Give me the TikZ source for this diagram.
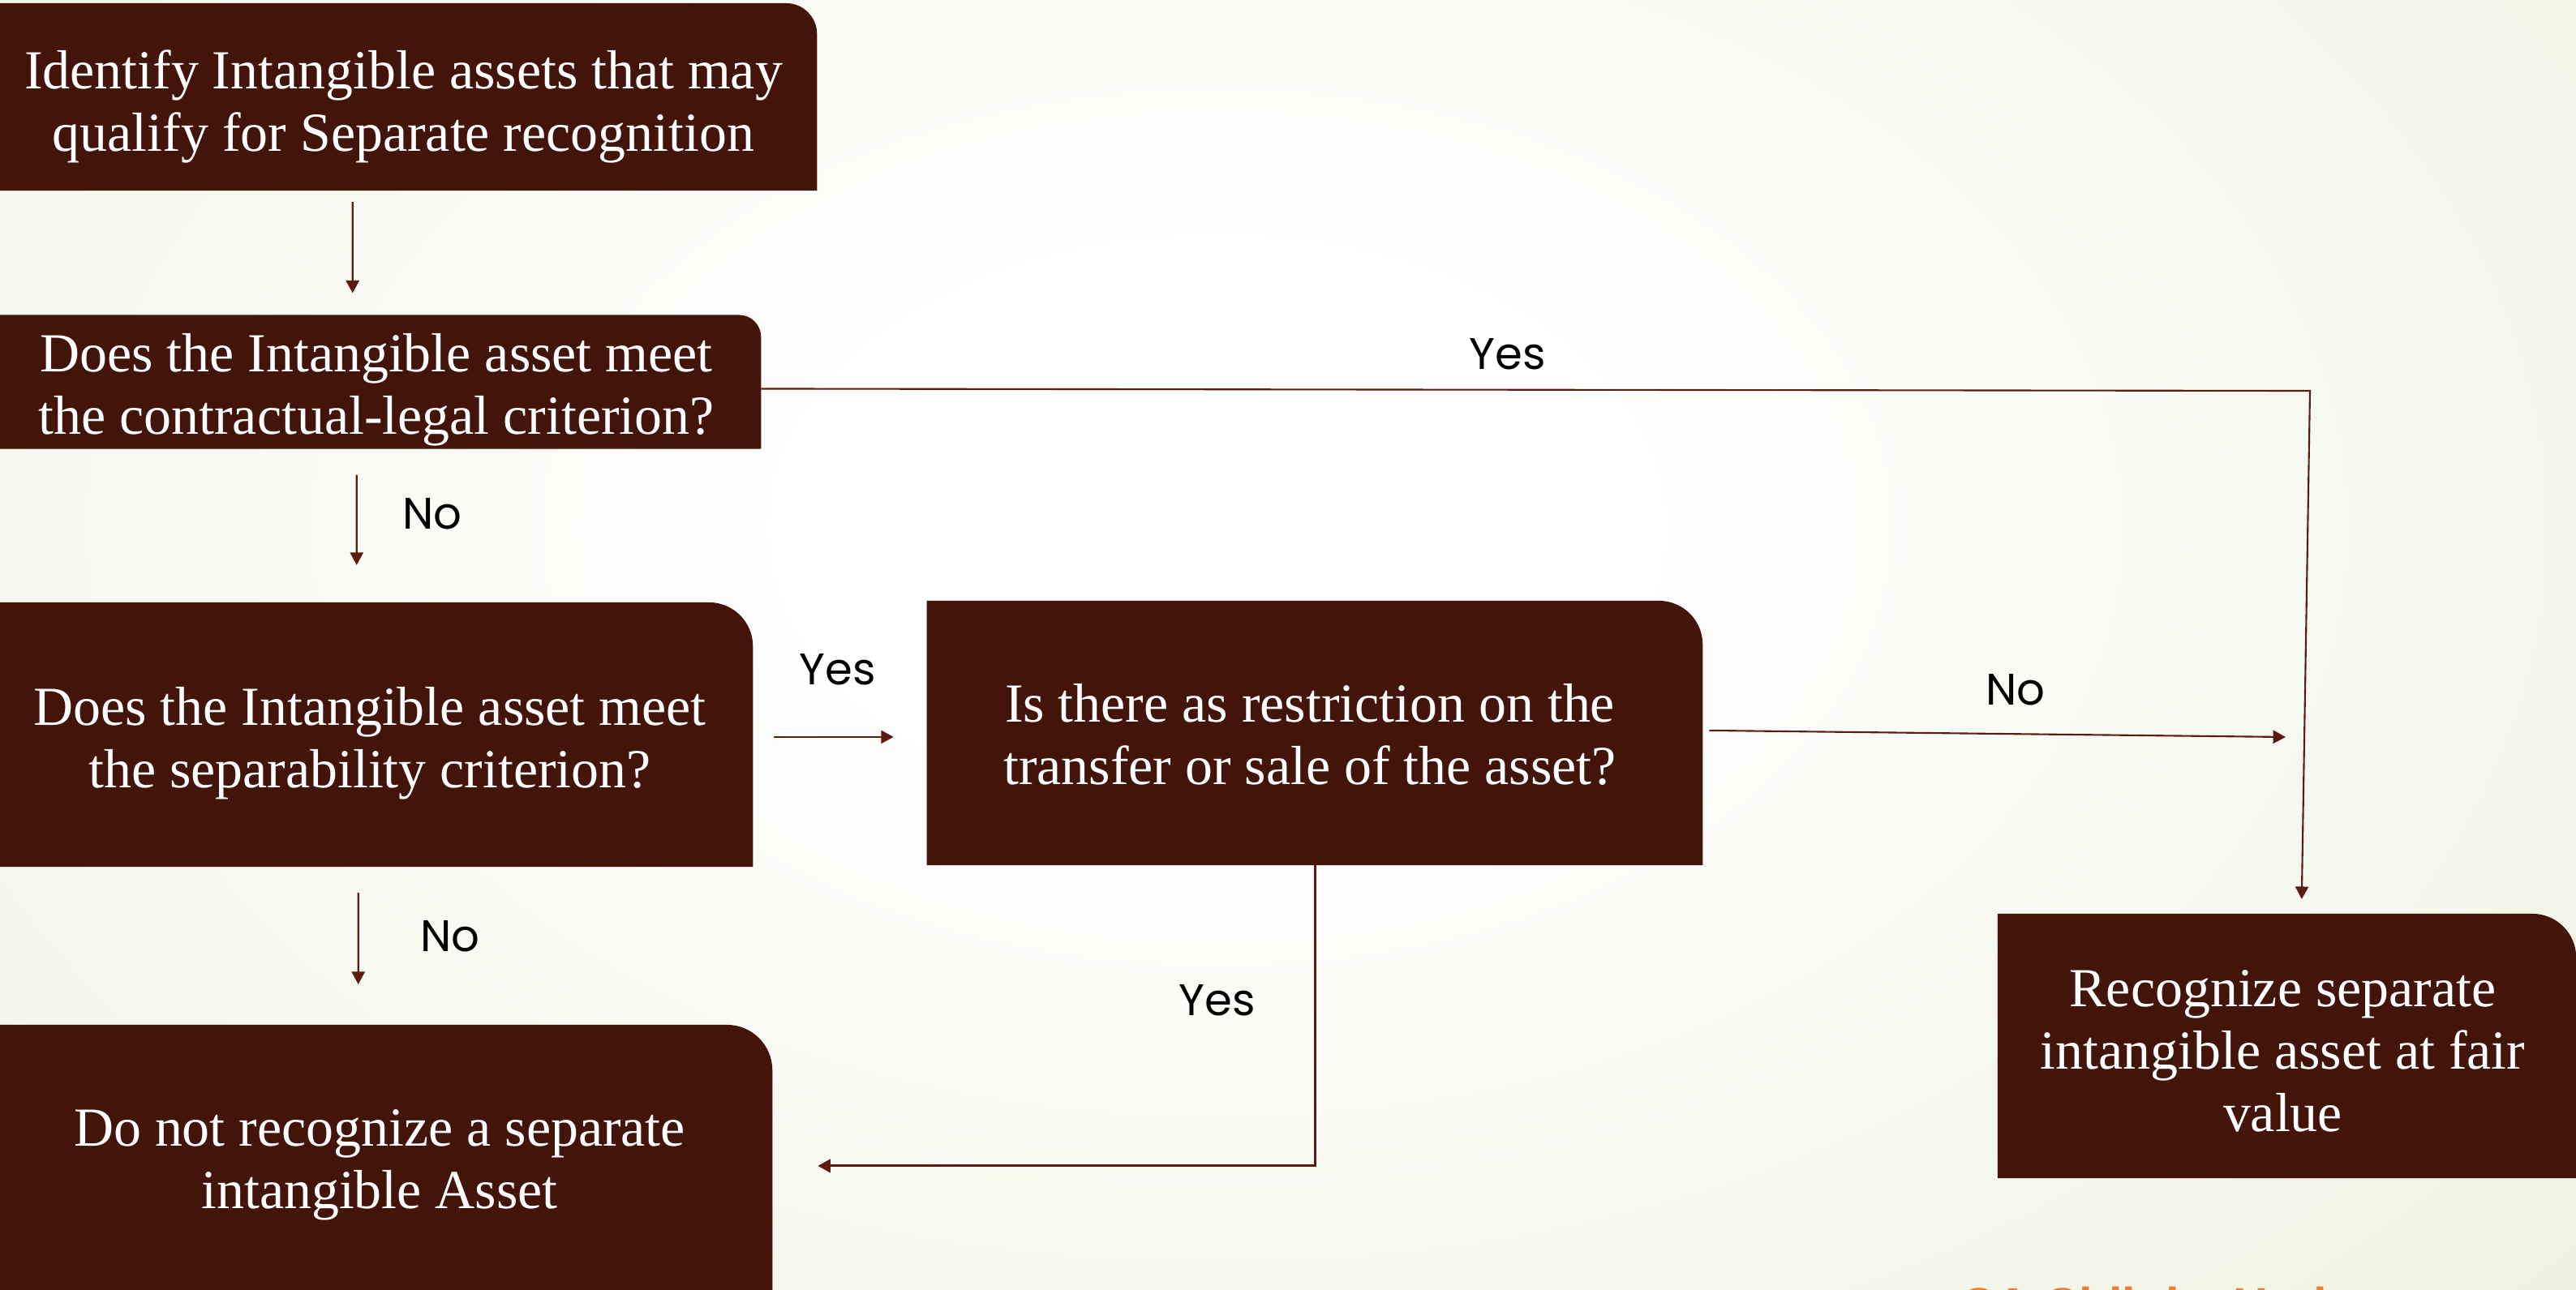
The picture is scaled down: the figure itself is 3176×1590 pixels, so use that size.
\documentclass[tikz,border=0pt]{standalone}
\usepackage{fontspec}
\setmainfont{Liberation Serif}
\newfontfamily\lblfont{Poppins}
\newfontfamily\orgfont{Liberation Sans}
\usetikzlibrary{arrows.meta,calc}
\definecolor{boxcol}{HTML}{43140A}
\definecolor{linecol}{HTML}{5E1A10}
\definecolor{bgout}{HTML}{DCE6C1}
\definecolor{orangecol}{HTML}{F07D2E}
\pgfdeclareradialshading{bgshade}{\pgfpoint{0bp}{0bp}}{color(0bp)=(white); color(6bp)=(white); color(50bp)=(bgout)}
\pgfdeclarelayer{bglayer}
\pgfdeclarelayer{boxlayer}
\pgfsetlayers{bglayer,boxlayer,main}
\tikzset{
  boxshape/.style={inner sep=0pt, outer sep=0pt},
  boxtxt/.style={inner sep=0pt, outer sep=0pt, align=center, text=white,
    font=\fontsize{19.3pt}{21.9pt}\selectfont},
  lbl/.style={inner sep=0pt, font=\lblfont\fontsize{15.5pt}{18pt}\selectfont, text=black},
  conn/.style={draw=linecol, line width=0.6pt},
  arr/.style={conn, -{Triangle[length=4.4pt,width=4.6pt]}},
}
\newcommand{\tabfill}[2]{%
  \fill[boxcol] (#1.south west) -- (#1.north west) -- ([xshift=-#2]#1.north east)
    arc[start angle=90,end angle=0,radius=#2] -- (#1.south east) -- cycle;}
\begin{document}
\begin{tikzpicture}[x=0.01cm,y=-0.01cm]
\useasboundingbox (0,0) rectangle (3176,1590);
\begin{pgfonlayer}{bglayer}
  \clip (0,0) rectangle (3176,1590);
  \shade[shading=bgshade] (-500,-650) rectangle (3500,1950);
\end{pgfonlayer}

% boxes
\node[boxshape, minimum width=10.07cm, minimum height=2.31cm] (b1) at (503.5,119.5) {};
\node[boxshape, minimum width=9.38cm, minimum height=1.65cm] (b2) at (469,471) {};
\node[boxshape, minimum width=9.28cm, minimum height=3.26cm] (b3) at (464,906) {};
\node[boxshape, minimum width=9.56cm, minimum height=3.26cm] (b4) at (1621,904) {};
\node[boxshape, minimum width=9.52cm, minimum height=3.36cm] (b5) at (476,1432) {};
\node[boxshape, minimum width=7.13cm, minimum height=3.26cm] (b6) at (2819.5,1290) {};

\begin{pgfonlayer}{boxlayer}
  \clip (0,0) rectangle (3176,1590);
  \tabfill{b1}{0.38cm}
  \tabfill{b2}{0.27cm}
  \tabfill{b3}{0.54cm}
  \tabfill{b4}{0.54cm}
  \tabfill{b5}{0.56cm}
  \tabfill{b6}{0.54cm}
\end{pgfonlayer}

% box texts
\node[boxtxt] (t1) at (497.5,131.5)
  {Identify Intangible assets that may\\qualify for Separate recognition};
\node[boxtxt] (t2) at (464,481)
  {Does the Intangible asset meet\\the contractual-legal criterion?};
\node[boxtxt] (t3) at (456,917)
  {Does the Intangible asset meet\\the separability criterion?};
\node[boxtxt] (t4) at (1615,906)
  {Is there as restriction on the\\transfer or sale of the asset?};
\node[boxtxt] (t5) at (468,1437)
  {Do not recognize a separate\\intangible Asset};
\node[boxtxt] (t6) at (2814.5,1296)
  {Recognize separate\\intangible asset at fair\\value};

% connectors
\coordinate (c1) at (2848,482);
\coordinate (c2) at (2818,909);
\draw[arr] ($(b1.south west)+(435,14)$) -- ($(b2.north west)+(435,-27)$);
\draw[arr] ($(b2.south west)+(440,32)$) -- ($(b3.north west)+(440,-46)$);
\draw[arr] ($(b3.south west)+(442,32)$) -- ($(b5.north west)+(442,-50)$);
\draw[arr] ($(b3.north east)+(26,166)$) -- ($(b4.north west)+(-41,168)$);
\draw[arr] ($(b2.north east)+(0,91)$) -- (c1) -- ($(b6.north west)+(375,-18)$);
\draw[arr] ($(b4.north east)+(8,160)$) -- (c2);
\draw[arr, line width=0.85pt] ($(b4.south west)+(479,0)$) |- ($(b5.north east)+(56,174)$);

% labels
\node[lbl] (l1) at (533,634) {No};
\node[lbl] (l2) at (555,1155) {No};
\node[lbl] (l3) at (1033,826) {Yes};
\node[lbl] (l4) at (1859,437) {Yes};
\node[lbl] (l5) at (2485,851) {No};
\node[lbl] (l6) at (1501,1234) {Yes};

% footer (cut off at the bottom edge, as in the original)
\begin{scope}
  \clip (0,0) rectangle (3176,1590);
  \node[anchor=north west, inner sep=0pt, text=orangecol,
    font=\orgfont\bfseries\fontsize{17pt}{20pt}\selectfont] (foot) at (2417,1586) {CA Chiluka Hari};
\end{scope}
\end{tikzpicture}
\end{document}
